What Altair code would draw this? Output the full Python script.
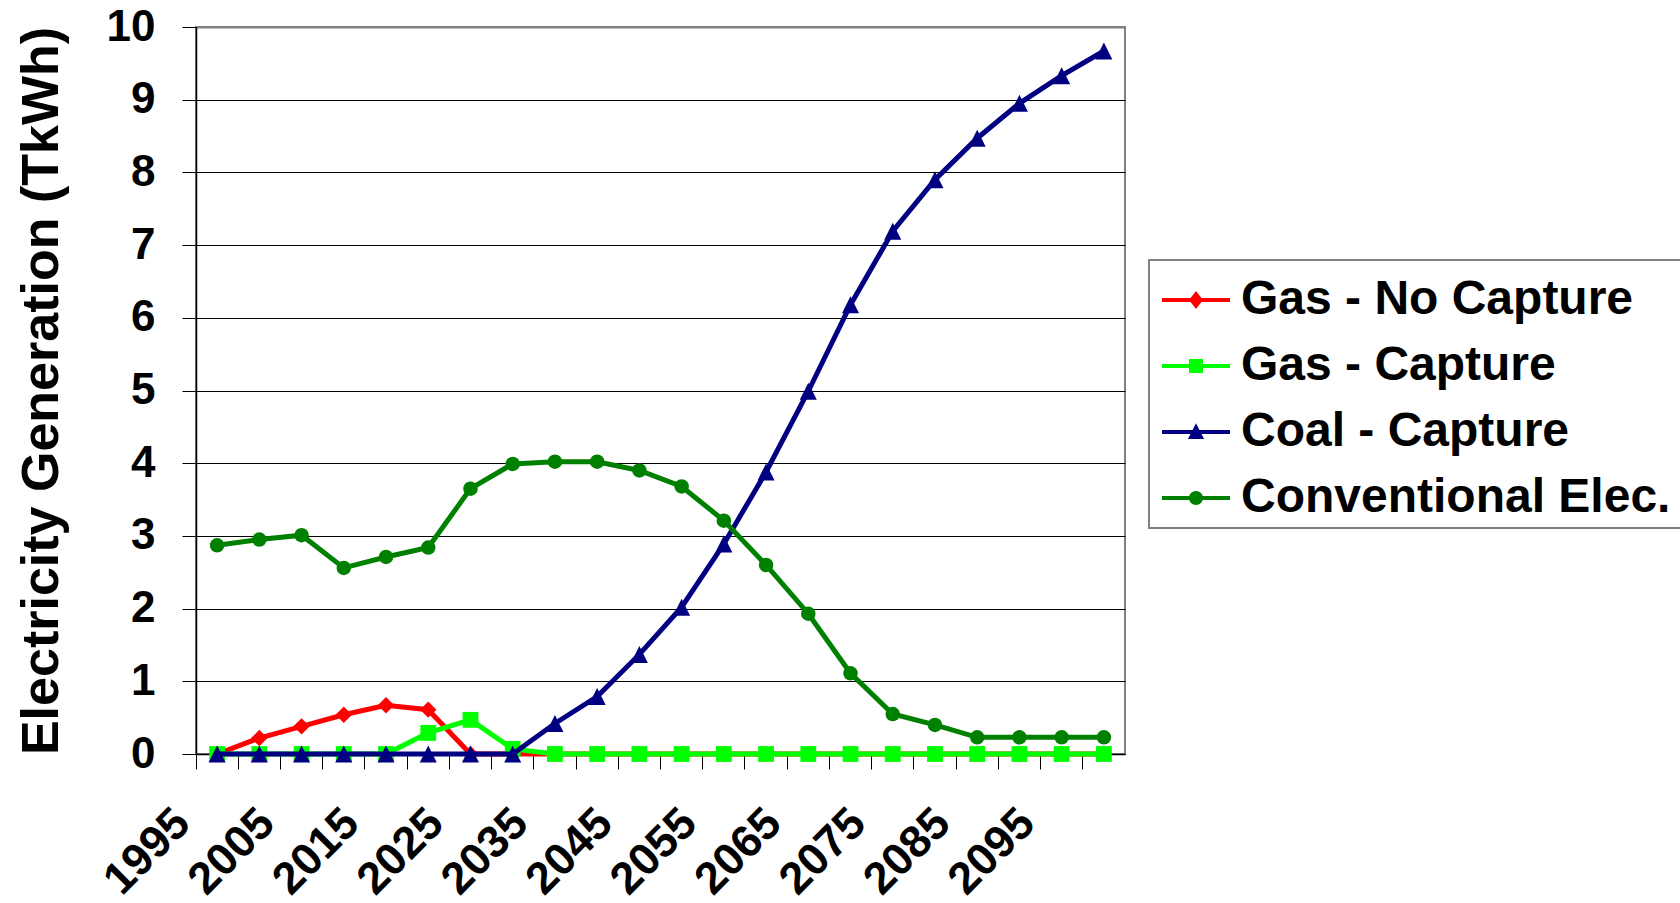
import altair as alt
import pandas as pd

years = ["1995", "2000", "2005", "2010", "2015", "2020", "2025", "2030", "2035", "2040", "2045",
         "2050", "2055", "2060", "2065", "2070", "2075", "2080", "2085", "2090", "2095", "2100"]
labeled_years = ["1995", "2005", "2015", "2025", "2035", "2045", "2055", "2065", "2075", "2085", "2095"]

series_names = ["Gas - No Capture", "Gas - Capture", "Coal - Capture", "Conventional Elec."]
series_colors = ["#FF0000", "#00FF00", "#000080", "#008000"]
series_shapes = ["diamond", "square", "M0,-1L1,1H-1Z", "circle"]
series_sizes = [270, 250, 290, 210]

gas_no_capture = [0, 0.22, 0.38, 0.54, 0.67, 0.61, 0, 0, 0, 0, 0,
                  0, 0, 0, 0, 0, 0, 0, 0, 0, 0, 0]
gas_capture = [0, 0, 0, 0, 0, 0.29, 0.47, 0.07, 0, 0, 0,
               0, 0, 0, 0, 0, 0, 0, 0, 0, 0, 0]
coal_capture = [0, 0, 0, 0, 0, 0, 0, 0, 0.42, 0.79, 1.37,
                2.02, 2.89, 3.88, 4.99, 6.18, 7.19, 7.90, 8.47, 8.95, 9.33, 9.67]
conventional = [2.87, 2.95, 3.01, 2.56, 2.71, 2.84, 3.65, 3.99, 4.02, 4.02, 3.90,
                3.68, 3.21, 2.60, 1.93, 1.11, 0.55, 0.40, 0.23, 0.23, 0.23, 0.23]

y_ticks = [0, 1, 2, 3, 4, 5, 6, 7, 8, 9, 10]

all_values = [gas_no_capture, gas_capture, coal_capture, conventional]
rows = []
for name, vals in zip(series_names, all_values):
    for yr, v in zip(years, vals):
        rows.append({"year": yr, "value": v, "series": name})
df = pd.DataFrame(rows)

FONT = "Liberation Sans"

label_list = "[" + ",".join("'" + y + "'" for y in labeled_years) + "]"

x_enc = alt.X(
    "year:O",
    sort=years,
    scale=alt.Scale(type="band", domain=years, paddingInner=0, paddingOuter=0),
    axis=alt.Axis(
        title=None,
        bandPosition=0,
        labelExpr="indexof(" + label_list + ", datum.value) >= 0 ? datum.value : ''",
        labelAngle=315,
        labelAlign="right",
        labelBaseline="top",
        labelOffset=-50,
        labelPadding=31,
        labelFont=FONT,
        labelFontSize=45,
        labelFontWeight="bold",
        labelColor="#000000",
        labelOverlap=False,
        tickSize=15,
        tickColor="#000000",
        tickWidth=1,
        domainColor="#000000",
        domainWidth=1.5,
        grid=False,
    ),
)

y_enc = alt.Y(
    "value:Q",
    scale=alt.Scale(domain=[0, 10], nice=False),
    axis=alt.Axis(
        values=y_ticks,
        title="Electricity Generation (TkWh)",
        titleFont=FONT,
        titleFontSize=52,
        titleFontWeight="bold",
        titleColor="#000000",
        titleAngle=270,
        titleAlign="center",
        titleBaseline="alphabetic",
        titleX=-139,
        titleY=363.5,
        labelFont=FONT,
        labelFontSize=44,
        labelFontWeight="bold",
        labelColor="#000000",
        labelPadding=27,
        tickSize=14,
        tickColor="#000000",
        domainColor="#000000",
        domainWidth=1.5,
        grid=True,
        gridColor={"condition": {"test": "datum.value >= 10", "value": "#808080"}, "value": "#000000"},
        gridWidth={"condition": {"test": "datum.value >= 10", "value": 2}, "value": 1},
    ),
)

base = alt.Chart(df)
layers = []
for name, col, shp, sz in zip(series_names, series_colors, series_shapes, series_sizes):
    sub = base.transform_filter(alt.datum.series == name)
    layers.append(sub.mark_line(color=col, strokeWidth=5).encode(x=x_enc, y=y_enc))
    layers.append(sub.mark_point(shape=shp, filled=True, color=col, size=sz, opacity=1,
                                 strokeWidth=0).encode(x=x_enc, y=y_enc))

# legend symbols: line segment with marker (unit-box paths); trailing moveTo widens the box
legend_paths = [
    "M-4.857,-0.3H4.857V0.3H-4.857Z M0,-1.3L1,0L0,1.3L-1,0Z M75,0",
    "M-4.857,-0.3H4.857V0.3H-4.857Z M-1,-1H1V1H-1Z M75,0",
    "M-4.857,-0.3H4.857V0.3H-4.857Z M0,-1.25L1.15,1H-1.15Z M75,0",
    "M-4.857,-0.3H4.857V0.3H-4.857Z M-1,0A1,1 0 1,1 1,0A1,1 0 1,1 -1,0Z M75,0",
]

leg = alt.Legend(
    title=" ",
    titleFontSize=10,
    titlePadding=0,
    orient="none",
    legendX=953,
    legendY=233,
    padding=6,
    strokeColor="#808080",
    fillColor="#FFFFFF",
    symbolSize=196,
    symbolOffset=17,
    symbolStrokeWidth=0,
    labelOffset=21,
    rowPadding=18,
    labelFont=FONT,
    labelFontSize=48,
    labelFontWeight="bold",
    labelColor="#000000",
    labelLimit=1000,
)

legend_df = pd.DataFrame({"series": series_names, "year": years[:4], "value": [0, 0, 0, 0]})
legend_layer = alt.Chart(legend_df).transform_filter("false").mark_point(filled=True, opacity=1).encode(
    x=x_enc,
    y=y_enc,
    color=alt.Color("series:N", scale=alt.Scale(domain=series_names, range=series_colors), legend=leg),
    shape=alt.Shape("series:N", scale=alt.Scale(domain=series_names, range=legend_paths), legend=leg),
)
layers.append(legend_layer)

chart = alt.layer(*layers).properties(
    width=929,
    height=727,
    autosize="none",
    padding={"left": 196, "top": 27, "right": 555, "bottom": 149},
    background="#FFFFFF",
).configure_view(
    stroke="#808080",
    strokeWidth=2,
).configure_legend(
    strokeWidth=2,
)

chart.save("out.html", embed_options={"renderer": "svg", "actions": False})
